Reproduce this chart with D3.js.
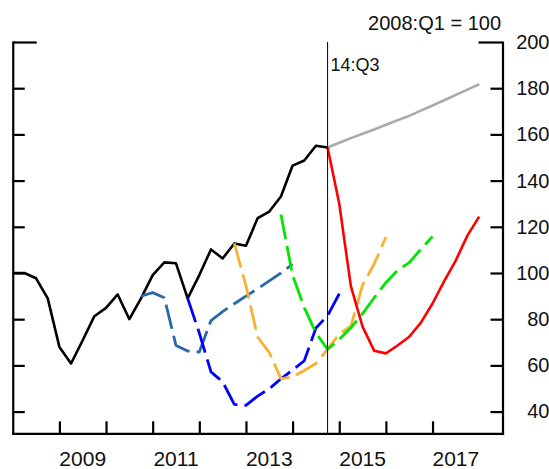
<!DOCTYPE html>
<html>
<head>
<meta charset="utf-8">
<script src="https://d3js.org/d3.v7.min.js"></script>
<style>
  body { margin: 0; background: #fff; }
  svg { display: block; font-family: 'Liberation Sans', Arial, sans-serif; }
</style>
</head>
<body>
<div id="chart"></div>
<script>
// index, 2008:Q1 = 100, quarterly
const actual = [100, 100, 97.7, 89, 68, 60.8, 70.9, 81.3, 84.9, 90.7, 80, 89, 99.1, 104.6,
  104.2, 89, 99.1, 110.2, 106.3, 112.8, 111.8, 123.7, 126.6, 133.1, 146.5, 148.7, 155.1, 154.3];
const actualStart = '2007:Q4';

const baseline = [154.3, 156.4, 158.4, 160.3, 162.1, 164.2, 166.1, 168, 170.3, 172.5, 174.8, 177.1, 179.4, 181.7];
const scenario = [154.3, 130, 94.2, 76.8, 66.3, 65.2, 68.6, 72.4, 78.5, 86.8, 96.5, 105.5, 116.3, 124.4];
const scenarioStart = '2014:Q3';

const fc2010 = [90, 91.5, 89.3, 68.6, 66.2, 65.8, 79.4, 83.3, 86.7, 90, 93.2, 96.6, 100, 103.8];
const fc2011 = [89, 74, 57.2, 52.9, 43.1, 42.7, 46.7, 49.9, 54.2, 58, 62, 76.2, 81.5, 91];
const fc2012 = [112.8, 94.5, 72.3, 65.5, 54.3, 55, 57.8, 60.8, 67, 73.6, 77, 94.8, 104, 115.5];
const fc2013 = [125.3, 99, 85, 74, 67, 71.3, 76.3, 82.4, 89.3, 95.8, 101.2, 104.5, 110.3, 115.8];
const fcStarts = ['2010:Q3', '2011:Q3', '2012:Q3', '2013:Q3'];

const yTicks = [40, 60, 80, 100, 120, 140, 160, 180, 200];
const yearTicks = [2009, 2010, 2011, 2012, 2013, 2014, 2015, 2016, 2017];
const yearLabels = [2009, 2011, 2013, 2015, 2017];
const markerQuarter = '2014:Q3';

// quarter 'YYYY:Qn' plotted at end of the quarter
const qTime = s => +s.slice(0, 4) + (+s.slice(6)) / 4;
const toPoints = (vals, start) => vals.map((v, i) => ({ t: qTime(start) + i / 4, v }));

const width = 549, height = 469;
const margin = { left: 12.75, right: 46.5, top: 42, bottom: 35.7 };
const innerW = width - margin.left - margin.right;
const innerH = height - margin.top - margin.bottom;

const svg = d3.select('#chart')
  .append('svg')
  .attr('width', width)
  .attr('height', height);

const g = svg.append('g')
  .attr('transform', `translate(${margin.left},${margin.top})`);

const x = d3.scaleLinear().domain([2008, 2018.5]).range([0, innerW]);
const y = d3.scaleLinear().domain([30.6, 200]).range([innerH, 0]);

// Axes
const leftAxis = g.append('g')
  .call(d3.axisLeft(y).tickValues(yTicks).tickSize(-12).tickSizeOuter(0).tickFormat(''));
const rightAxis = g.append('g')
  .attr('transform', `translate(${innerW},0)`)
  .call(d3.axisRight(y).tickValues(yTicks).tickSize(-12).tickSizeOuter(0));
const bottomAxis = g.append('g')
  .attr('transform', `translate(0,${innerH})`)
  .call(d3.axisBottom(x).tickValues(yearTicks).tickSize(-12).tickSizeOuter(0).tickFormat(''));

[leftAxis, rightAxis, bottomAxis].forEach(a => {
  a.select('.domain').attr('stroke', '#000').attr('stroke-width', 2.2).attr('stroke-linecap', 'square');
  a.selectAll('.tick line').attr('stroke', '#000').attr('stroke-width', 2.2);
});
leftAxis.selectAll('.tick').filter(d => d === 200).select('line').attr('x2', 24);
rightAxis.selectAll('.tick').filter(d => d === 200).select('line').attr('x2', -24);

rightAxis.selectAll('.tick text')
  .attr('x', 47)
  .attr('text-anchor', 'end')
  .attr('fill', '#111')
  .style('font-size', '20px')
  .style('font-family', "'Liberation Sans', Arial, sans-serif");

g.append('g')
  .selectAll('text')
  .data(yearLabels)
  .enter()
  .append('text')
  .attr('x', d => x(d + 0.5))
  .attr('y', innerH + 32.5)
  .attr('text-anchor', 'middle')
  .attr('fill', '#111')
  .style('font-size', '21px')
  .text(d => d);

// Lines
const line = d3.line().x(d => x(d.t)).y(d => y(d.v));

const dashed = [
  { vals: fc2010, color: '#2a69a8' },
  { vals: fc2011, color: '#0000ff' },
  { vals: fc2012, color: '#f8b132' },
  { vals: fc2013, color: '#00e600' },
];

g.append('path')
  .datum(toPoints(actual, actualStart))
  .attr('fill', 'none')
  .attr('stroke', '#000')
  .attr('stroke-width', 2.6)
  .attr('stroke-linejoin', 'round')
  .attr('d', line);

dashed.forEach((s, i) => {
  g.append('path')
    .datum(toPoints(s.vals, fcStarts[i]))
    .attr('fill', 'none')
    .attr('stroke', s.color)
    .attr('stroke-width', 2.8)
    .attr('stroke-dasharray', '25,7')
    .attr('stroke-linejoin', 'round')
    .attr('d', line);
});

g.append('path')
  .datum(toPoints(baseline, scenarioStart))
  .attr('fill', 'none')
  .attr('stroke', '#aaaaaa')
  .attr('stroke-width', 2.6)
  .attr('d', line);

g.append('path')
  .datum(toPoints(scenario, scenarioStart))
  .attr('fill', 'none')
  .attr('stroke', '#ff0000')
  .attr('stroke-width', 2.6)
  .attr('stroke-linejoin', 'round')
  .attr('d', line);

// Marker line
const mx = x(qTime(markerQuarter));
g.append('line')
  .attr('x1', mx).attr('x2', mx)
  .attr('y1', 0).attr('y2', innerH)
  .attr('stroke', '#000')
  .attr('stroke-width', 1);

g.append('text')
  .attr('x', mx + 3)
  .attr('y', 29)
  .attr('fill', '#111')
  .style('font-size', '18px')
  .text('14:Q3');

svg.append('text')
  .attr('x', 501)
  .attr('y', 30)
  .attr('text-anchor', 'end')
  .attr('fill', '#111')
  .style('font-size', '20px')
  .text('2008:Q1 = 100');
</script>
</body>
</html>
